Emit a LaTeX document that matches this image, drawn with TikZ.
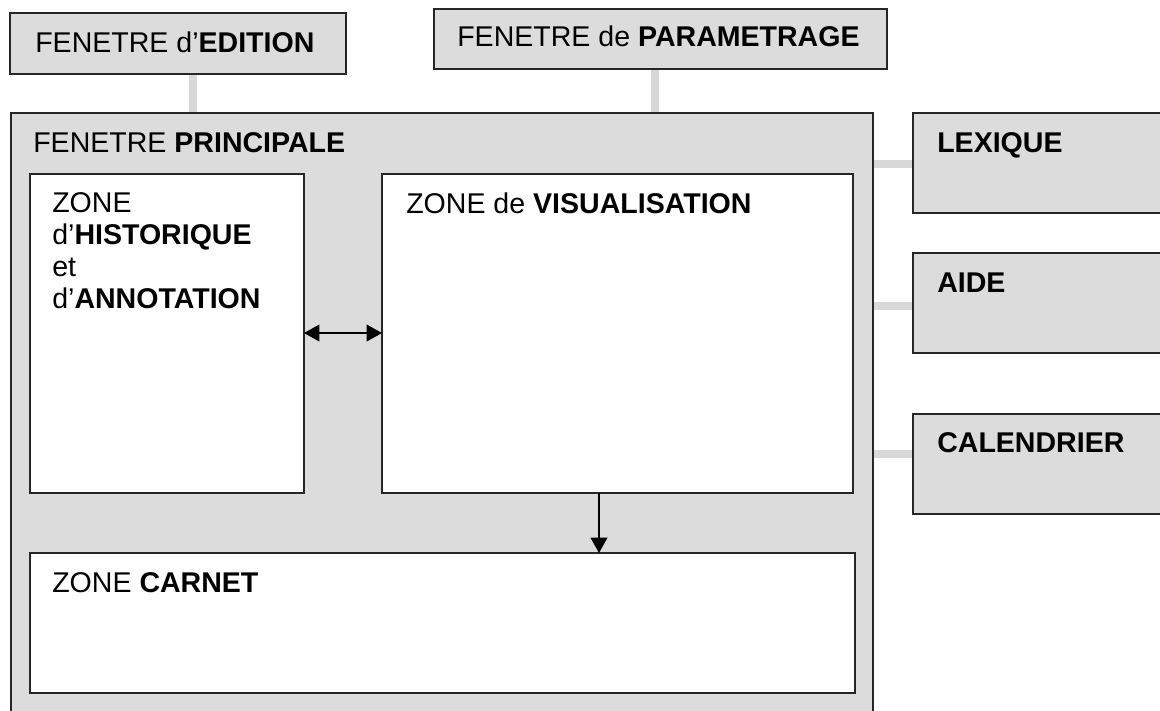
\documentclass[tikz,border=0pt]{standalone}
\usepackage{fontspec}
\setmainfont{Liberation Sans}
\usepackage{tikz}
\usetikzlibrary{arrows.meta,positioning,backgrounds}
\definecolor{panelgray}{HTML}{DCDCDC}
\definecolor{linkgray}{HTML}{D8D8D8}
\definecolor{edge}{HTML}{262626}
\newlength\unitpx
\setlength\unitpx{0.025cm}
\tikzset{
  window/.style={
    rectangle,
    draw=edge,
    fill=panelgray,
    line width=1.1pt,
    anchor=north west,
    inner sep=0pt,
    outer sep=0pt
  },
  zone/.style={
    window,
    fill=white
  },
  caption/.style={
    anchor=base west,
    inner sep=0pt,
    align=left,
    font=\fontsize{20.3}{22.75}\selectfont
  },
  link/.style={draw=linkgray, line width=5pt},
  arrow/.style={-{Triangle[length=11pt,width=12pt]}, line width=1pt, draw=black},
  biarrow/.style={{Triangle[length=11pt,width=12pt]}-{Triangle[length=11pt,width=12pt]}, line width=1pt, draw=black}
}

\begin{document}
\begin{tikzpicture}[x=0.025cm, y=-0.025cm]
\useasboundingbox (0,0) rectangle (1160,711);

\node[window, minimum width=336*\unitpx, minimum height=61*\unitpx] (edition) at (10,13) {};
\node[window, minimum width=453*\unitpx, minimum height=60*\unitpx] (parametrage) at (434,9) {};
\node[window, minimum width=862*\unitpx, minimum height=612*\unitpx] (principale) at (11,113) {};

\node[window, minimum width=260*\unitpx, minimum height=100*\unitpx] (lexique) at (913,113) {};
\node[window, minimum width=260*\unitpx, minimum height=100*\unitpx] (aide) at (913,253) {};
\node[window, minimum width=260*\unitpx, minimum height=100*\unitpx] (calendrier) at (913,414) {};

\node[zone, minimum width=274*\unitpx, minimum height=319*\unitpx] (historique) at (30,174) {};
\node[zone, minimum width=471*\unitpx, minimum height=319*\unitpx] (visualisation) at (382,174) {};
\node[zone, minimum width=825*\unitpx, minimum height=140*\unitpx] (carnet) at (30,553) {};

\node[caption] (editionlbl) at ([shift={(25,39)}]edition.north west) {FENETRE d’\textbf{EDITION}};
\node[caption] (parametragelbl) at ([shift={(23,37)}]parametrage.north west) {FENETRE de \textbf{PARAMETRAGE}};
\node[caption] (principalelbl) at ([shift={(22,39)}]principale.north west) {FENETRE \textbf{PRINCIPALE}};
\node[caption] (lexiquelbl) at ([shift={(24,39)}]lexique.north west) {\textbf{LEXIQUE}};
\node[caption] (aidelbl) at ([shift={(24,39)}]aide.north west) {\textbf{AIDE}};
\node[caption] (calendrierlbl) at ([shift={(24,38)}]calendrier.north west) {\textbf{CALENDRIER}};
% base of a multi-line caption is its last line
\node[caption] (historiquelbl) at ([shift={(22,134)}]historique.north west) {ZONE\\d’\textbf{HISTORIQUE}\\et\\d’\textbf{ANNOTATION}};
\node[caption] (visualisationlbl) at ([shift={(24,39)}]visualisation.north west) {ZONE de \textbf{VISUALISATION}};
\node[caption] (carnetlbl) at ([shift={(22,39)}]carnet.north west) {ZONE \textbf{CARNET}};

\coordinate (editionfoot) at ([shift={(183,0)}]edition.south west);
\coordinate (parametragefoot) at ([shift={(221,0)}]parametrage.south west);
\coordinate (lexiqueport) at ([shift={(0,51)}]lexique.north west);
\coordinate (aideport) at ([shift={(0,53)}]aide.north west);
\coordinate (calendrierport) at ([shift={(0,40)}]calendrier.north west);

\begin{scope}[on background layer]
\draw[link] (editionfoot) -- (editionfoot |- principale.north);
\draw[link] (parametragefoot) -- (parametragefoot |- principale.north);
\draw[link] (lexiqueport) -- (lexiqueport -| principale.east);
\draw[link] (aideport) -- (aideport -| principale.east);
\draw[link] (calendrierport) -- (calendrierport -| principale.east);
\end{scope}

\coordinate (historiqueport) at ([shift={(0,159)}]historique.north east);
\coordinate (visualisationfoot) at ([shift={(217,0)}]visualisation.south west);

\draw[biarrow] (historiqueport) -- (historiqueport -| visualisation.west);
\draw[arrow] (visualisationfoot) -- (visualisationfoot |- carnet.north);

\end{tikzpicture}
\end{document}
